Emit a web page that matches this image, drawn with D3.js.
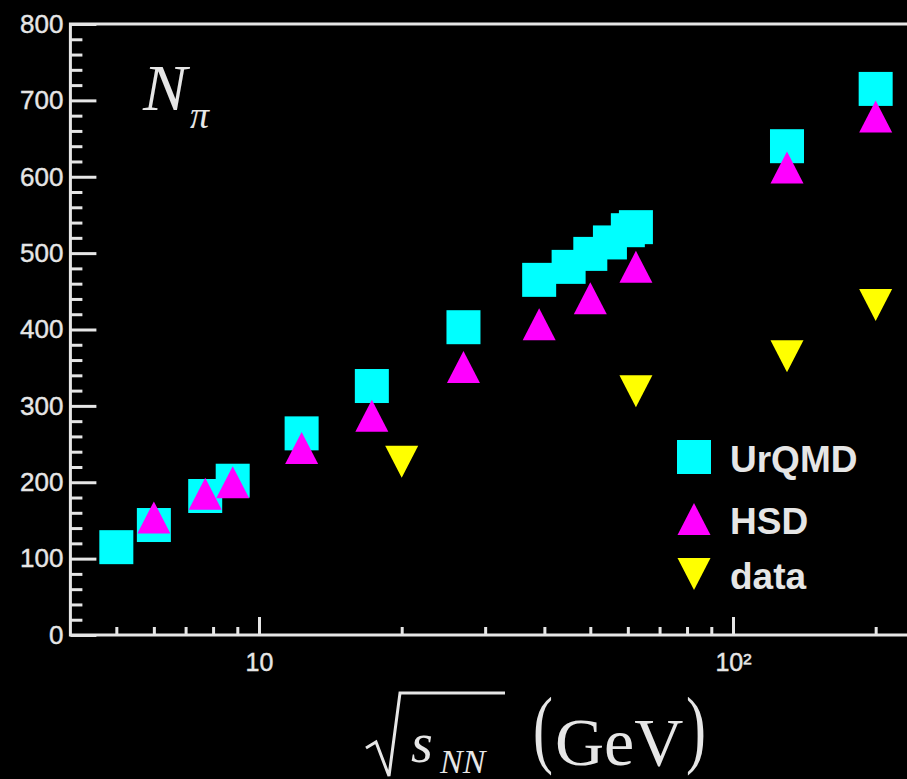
<!DOCTYPE html>
<html>
<head>
<meta charset="utf-8">
<script src="https://cdn.jsdelivr.net/npm/d3@7"></script>
<style>
  body { margin: 0; background: #000; }
  svg { display: block; }
</style>
</head>
<body>
<div id="chart"></div>
<script>
// values
const seriesNames = ["UrQMD", "HSD", "data"];

const urqmdE = [5, 6, 7.7, 8.8, 12.3, 17.3, 27, 39, 45, 50, 55, 60, 62.4, 130, 200];
const urqmdN = [115, 144, 182, 202, 264, 326, 403, 465, 482, 499, 514, 530, 534, 640, 715];

const hsdE = [6, 7.7, 8.8, 12.3, 17.3, 27, 39, 50, 62.4, 130, 200];
const hsdN = [154, 185, 200, 245, 287, 351, 407, 441, 482, 612, 679];

const dataE = [20, 62.4, 130, 200];
const dataN = [227, 319, 365, 432];

const yMajor = [0, 100, 200, 300, 400, 500, 600, 700, 800];
const xMajor = [10, 100];

const W = 907, H = 779;
const AX = "#e6e6e6";
const SANS = "'Liberation Sans', Arial, sans-serif";
const SERIF = "'Liberation Serif', 'Times New Roman', serif";

const svg = d3.select("#chart").append("svg")
    .attr("width", W)
    .attr("height", H)
    .style("background", "#000");

const x = d3.scaleLog().domain([4, 250]).range([70.4, 921.6]);
const y = d3.scaleLinear().domain([0, 800]).range([635, 24]);

// minor ticks
const yMinor = d3.range(0, 801, 20).filter(v => v % 100 !== 0);
const xMinor = [5, 6, 7, 8, 9, 20, 30, 40, 50, 60, 70, 80, 90, 200];

svg.append("g")
    .attr("transform", `translate(${x.range()[0]},0)`)
    .call(d3.axisLeft(y).tickValues(yMinor).tickSize(-12).tickFormat(""))
    .call(g => g.select(".domain").remove())
    .call(g => g.selectAll("line").attr("stroke", AX).attr("stroke-width", 3));

const yAx = svg.append("g")
    .attr("transform", `translate(${x.range()[0]},0)`)
    .call(d3.axisLeft(y).tickValues(yMajor).tickSizeInner(-26).tickSizeOuter(0).tickPadding(7));
yAx.select(".domain").remove();
yAx.selectAll("line").attr("stroke", AX).attr("stroke-width", 3);
yAx.selectAll("text")
    .attr("fill", AX)
    .attr("stroke", AX)
    .attr("stroke-width", 0.4)
    .style("font-family", SANS)
    .style("font-size", "26px");

svg.append("g")
    .attr("transform", `translate(0,${y(0)})`)
    .call(d3.axisBottom(x).tickValues(xMinor).tickSize(-8).tickFormat(""))
    .call(g => g.select(".domain").remove())
    .call(g => g.selectAll("line").attr("stroke", AX).attr("stroke-width", 3));

const xAx = svg.append("g")
    .attr("transform", `translate(0,${y(0)})`)
    .call(d3.axisBottom(x).tickValues(xMajor).tickSizeInner(-18).tickSizeOuter(0).tickPadding(18)
        .tickFormat(d => d === 100 ? "10\u00B2" : "10"));
xAx.select(".domain").remove();
xAx.selectAll("line").attr("stroke", AX).attr("stroke-width", 3);
xAx.selectAll("text")
    .attr("fill", AX)
    .attr("stroke", AX)
    .attr("stroke-width", 0.4)
    .style("font-family", SANS)
    .style("font-size", "25px");

// frame (right side runs off the page)
svg.append("rect")
    .attr("x", x.range()[0])
    .attr("y", y(800))
    .attr("width", x.range()[1] - x.range()[0])
    .attr("height", y(0) - y(800))
    .attr("fill", "none")
    .attr("stroke", AX)
    .attr("stroke-width", 3);

// markers
const SQ = 34;
function tri(up, w = 33, h = 32) {
    const a = up ? -h / 2 : h / 2;
    return `M0,${a}L${w / 2},${-a}L${-w / 2},${-a}Z`;
}

const pts = (es, ns) => es.map((e, i) => ({ e: e, n: ns[i] }));

svg.append("g").selectAll("rect")
    .data(pts(urqmdE, urqmdN))
    .join("rect")
    .attr("x", d => x(d.e) - SQ / 2)
    .attr("y", d => y(d.n) - SQ / 2)
    .attr("width", SQ)
    .attr("height", SQ)
    .attr("fill", "#00ffff");

svg.append("g").selectAll("path")
    .data(pts(hsdE, hsdN))
    .join("path")
    .attr("transform", d => `translate(${x(d.e)},${y(d.n)})`)
    .attr("d", tri(true))
    .attr("fill", "#ff00ff");

svg.append("g").selectAll("path")
    .data(pts(dataE, dataN))
    .join("path")
    .attr("transform", d => `translate(${x(d.e)},${y(d.n)})`)
    .attr("d", tri(false))
    .attr("fill", "#ffff00");

// legend
const leg = svg.append("g").attr("transform", "translate(694,457)");
const legRow = leg.selectAll("g")
    .data(seriesNames)
    .join("g")
    .attr("transform", (d, i) => `translate(0,${[0, 62, 117][i]})`);
legRow.each(function (d, i) {
    const g = d3.select(this);
    if (i === 0) {
        g.append("rect").attr("x", -SQ / 2).attr("y", -SQ / 2)
            .attr("width", SQ).attr("height", SQ).attr("fill", "#00ffff");
    } else {
        g.append("path").attr("d", tri(i === 1)).attr("fill", i === 1 ? "#ff00ff" : "#ffff00");
    }
});
legRow.append("text")
    .attr("x", 36)
    .attr("y", 15)
    .attr("fill", AX)
    .style("font-family", SANS)
    .style("font-weight", "bold")
    .style("font-size", "37px")
    .text(d => d);

// title N_pi
const title = svg.append("text")
    .attr("x", 143)
    .attr("y", 110)
    .attr("fill", AX)
    .style("font-family", SERIF)
    .style("font-style", "italic");
title.append("tspan").style("font-size", "66px").text("N");
title.append("tspan").attr("dx", 3).attr("dy", 18).style("font-size", "38px").text("\u03C0");

// x axis title: sqrt(s_NN) (GeV)
const xl = svg.append("g").attr("fill", AX).style("font-family", SERIF);
xl.append("path")
    .attr("d", "M366,748L376,742L389,776L400,693L505,693")
    .attr("fill", "none")
    .attr("stroke", AX)
    .attr("stroke-width", 3)
    .attr("stroke-linejoin", "miter");
xl.append("text").attr("x", 411).attr("y", 762)
    .style("font-style", "italic").style("font-size", "56px").text("s");
xl.append("text").attr("x", 440).attr("y", 773)
    .style("font-style", "italic").style("font-size", "34px").text("NN");
// tall parentheses: small font stretched vertically
xl.append("text").attr("transform", "translate(533,757) scale(1,1.45)")
    .style("font-size", "60px").text("(");
xl.append("text").attr("x", 555).attr("y", 765).style("font-size", "68px").text("GeV");
xl.append("text").attr("transform", "translate(686,757) scale(1,1.45)")
    .style("font-size", "60px").text(")");
</script>
</body>
</html>
